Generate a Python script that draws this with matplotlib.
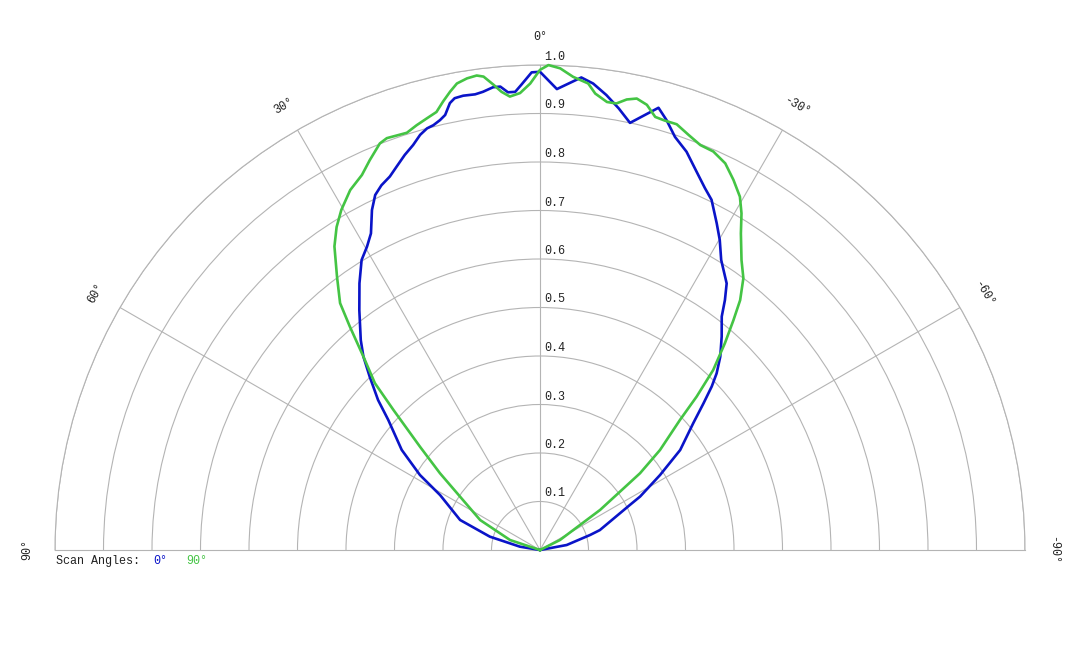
import numpy as np
import matplotlib
matplotlib.use('Agg')
import matplotlib.pyplot as plt
import matplotlib.transforms as mtransforms

# scan at 0 deg (blue), angles in degrees, + is left
blue_theta = [85, 80.6, 75.1, 69.4, 61.2, 58.0, 54.1, 49.4, 47.2, 44.5, 42.4, 40.5,
              37.0, 34.1, 31.6, 29.7, 28.1, 26.3, 24.9, 23.5, 21.9, 20.5, 18.9, 17.4,
              16.1, 15.0, 14.1, 13.1, 12.3, 11.4, 10.7, 9.6, 8.1, 7.1, 5.8, 4.9, 4.0,
              3.1, 2.3, 1.0, 0.0, -2.1, -5.0, -6.5, -8.3, -10.1, -11.9, -15.0, -16.4,
              -18.1, -20.2, -22.5, -24.5, -26.1, -28.4, -30.1, -32.0, -35.0, -36.5,
              -37.9, -40.4, -43.0, -45.0, -46.4, -48.1, -50.4, -54.5, -58.0, -61.9,
              -63.4, -71.6, -73.3, -79.4, -85]
blue_r = [0.0, 0.042, 0.107, 0.176, 0.235, 0.292, 0.352, 0.412, 0.455, 0.501, 0.540, 0.569,
          0.619, 0.664, 0.702, 0.720, 0.740, 0.782, 0.807, 0.820, 0.830, 0.844, 0.861, 0.875,
          0.891, 0.900, 0.903, 0.910, 0.918, 0.940, 0.948, 0.950, 0.949, 0.952, 0.959, 0.959, 0.946,
          0.946, 0.960, 0.985, 0.986, 0.951, 0.978, 0.968, 0.948, 0.925, 0.900, 0.944, 0.924,
          0.896, 0.875, 0.844, 0.820, 0.804, 0.766, 0.739, 0.705, 0.671, 0.641,
          0.610, 0.578, 0.545, 0.515, 0.489, 0.453, 0.410, 0.355, 0.292, 0.234,
          0.207, 0.130, 0.108, 0.056, 0.0]

# scan at 90 deg (green)
green_theta = [75, 71.6, 63.4, 52.5, 49.3, 46.3, 44.7, 42.4, 40.4, 39.0, 36.6, 34.1, 32.2,
               30.3, 27.8, 25.4, 23.6, 21.5, 20.4, 17.7, 16.2, 14.7, 13.3, 12.2, 11.1, 10.1,
               8.8, 7.6, 6.8, 5.7, 4.8, 3.8, 2.5, 1.2, 0.0, -1.0, -2.4, -4.0, -5.9, -6.9,
               -8.5, -9.7, -10.9, -12.1, -13.5, -14.9, -16.2, -17.8, -19.7, -21.6, -23.5,
               -25.6, -27.6, -29.5, -30.9, -32.4, -34.8, -36.8, -38.7, -40.1, -41.8, -43.9,
               -45.6, -47.1, -50.2, -52.5, -56.3, -63.4, -70]
green_r = [0.0, 0.065, 0.138, 0.260, 0.326, 0.418, 0.484, 0.540, 0.605, 0.655, 0.702, 0.756, 0.787,
           0.812, 0.839, 0.856, 0.877, 0.901, 0.906, 0.903, 0.912, 0.920, 0.928, 0.946, 0.963, 0.977,
           0.984, 0.987, 0.983, 0.964, 0.948, 0.937, 0.943, 0.962, 0.990, 1.000, 0.994, 0.978, 0.967, 0.948,
           0.934, 0.934, 0.946, 0.952, 0.944, 0.924, 0.922, 0.922, 0.909, 0.898, 0.896,
           0.884, 0.861, 0.837, 0.809, 0.773, 0.728, 0.700, 0.660, 0.619, 0.572, 0.515,
           0.452, 0.394, 0.322, 0.260, 0.149, 0.046, 0.0]

rings = [0.1, 0.2, 0.3, 0.4, 0.5, 0.6, 0.7, 0.8, 0.9, 1.0]
ring_labels = ['0.1', '0.2', '0.3', '0.4', '0.5', '0.6', '0.7', '0.8', '0.9', '1.0']
spokes = [-90, -60, -30, 0, 30, 60, 90]

blue = '#0a14c8'
green = '#44c444'
grid = '#b4b4b4'
mono = 'Liberation Mono'

fig = plt.figure(figsize=(10.8, 6.48), dpi=100)
# the half disc is centred inside a square axes box: make the square 970 px
# so the wedge spans x 55..1025 and y 65..550 (pixels from the top)
side = 970
cy = (65 + 550) / 2
ax = fig.add_axes([55 / 1080, (648 - (cy + side / 2)) / 648, side / 1080, side / 648],
                  projection='polar')
ax.set_theta_zero_location('N')
ax.set_theta_direction(1)
ax.set_thetamin(-90)
ax.set_thetamax(90)
ax.set_ylim(0, 1)

ax.set_rticks(rings)
ax.set_yticklabels([])
ax.set_thetagrids([-60, -30, 0, 30, 60], labels=[''] * 5)
ax.grid(True, color=grid, lw=0.8)
for s in ax.spines.values():
    s.set_color(grid)
    s.set_linewidth(0.8)
ax.tick_params(length=0)

ax.plot(np.deg2rad(blue_theta), blue_r, color=blue, lw=1.9, clip_on=False, zorder=3)
ax.plot(np.deg2rad(green_theta), green_r, color=green, lw=1.9, clip_on=False, zorder=3)

# radial labels along the 0 deg spoke
off = mtransforms.offset_copy(ax.transData, fig=fig, x=4, y=8, units='dots')
for v, lab in zip(rings, ring_labels):
    ax.text(0, v, lab, transform=off, ha='left', va='center',
            fontsize=8.5, family=mono, color='#222222')

# angle labels
for a in spokes:
    ax.text(np.deg2rad(a), 1.057, f'{a}°', rotation=a, rotation_mode='anchor',
            ha='center', va='center', fontsize=8.5, family=mono, color='#222222',
            clip_on=False)

fig.text(56 / 1080, 1 - 561 / 648, 'Scan Angles:', ha='left', va='center',
         fontsize=8.5, family=mono, color='#222222')
fig.text(153 / 1080, 1 - 561 / 648, '0°', ha='left', va='center',
         fontsize=8.5, family=mono, color=blue)
fig.text(186 / 1080, 1 - 561 / 648, '90°', ha='left', va='center',
         fontsize=8.5, family=mono, color=green)

fig.savefig('out.png', dpi=100)
